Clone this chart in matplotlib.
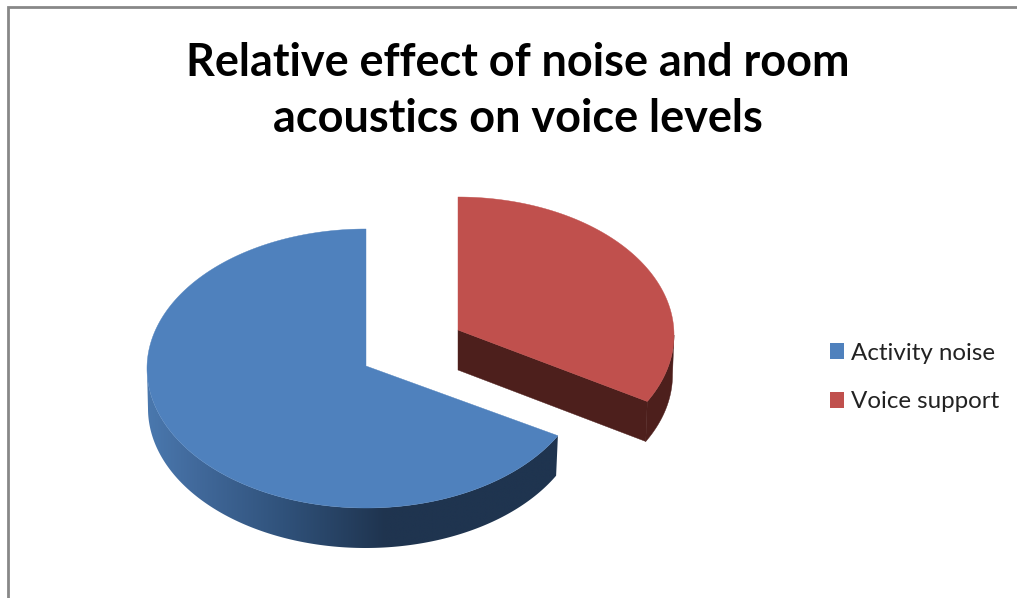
import numpy as np
import matplotlib
matplotlib.use("Agg")
import matplotlib.pyplot as plt
from matplotlib.colors import LinearSegmentedColormap
from matplotlib.patches import Polygon, Patch

labels = ["Activity noise", "Voice support"]
values = [67, 33]
colors = ["#4F81BD", "#C0504D"]
title = "Relative effect of noise and room\nacoustics on voice levels"

W, H = 1017, 598
fig = plt.figure(figsize=(W / 100, H / 100), dpi=100, facecolor="white")
ax = fig.add_axes([0, 0, 1, 1])
ax.set_xlim(0, W)
ax.set_ylim(H, 0)
ax.axis("off")

# frame (only the top and left edges are visible in the crop)
ax.plot([8, 8, W], [H, 7, 7], color="#888888", lw=2.0, solid_joinstyle="miter")

share = np.array(values, float) / sum(values) * 360
voice_end = np.deg2rad(share[1])
DEPTH = 40


def rim(cx, cy, rx, ry, a0, a1, n=360):
    t = np.linspace(a0, a1, n)
    return cx + rx * np.sin(t), cy - ry * np.cos(t)


# Activity noise slice
bx, by, brx, bry = 366, 368.5, 219, 139.5
apex_b = (366, 366)
cmap = LinearSegmentedColormap.from_list(
    "wall",
    [(0.0, "#4A78AE"), (0.12, "#41699B"), (0.33, "#30527B"),
     (0.58, "#1F344F"), (1.0, "#1F344F")],
)
# visible outer wall runs from the cut edge round to the leftmost point
x_u, y_u = rim(bx, by, brx, bry, voice_end, 1.5 * np.pi)
x_l, y_l = rim(bx - 0.5, by, brx - 1.5, bry, voice_end, 1.5 * np.pi)
wall_pts = np.r_[np.c_[x_u, y_u], np.c_[x_l[::-1], y_l[::-1] + DEPTH]]
wall_poly = Polygon(wall_pts, closed=True, fc="none", ec="none", transform=ax.transData)
ax.add_patch(wall_poly)
x0, x1 = wall_pts[:, 0].min(), wall_pts[:, 0].max()
y0, y1 = wall_pts[:, 1].min(), wall_pts[:, 1].max()
grad = np.linspace(0, 1, 512)[None, :]
im = ax.imshow(grad, extent=(x0, x1, y1, y0), cmap=cmap, aspect="auto", zorder=2,
               interpolation="bilinear")
im.set_clip_path(wall_poly)
ax.set_xlim(0, W)
ax.set_ylim(H, 0)

x, y = rim(bx, by, brx, bry, voice_end, 2 * np.pi)
ax.add_patch(Polygon(np.r_[[apex_b], np.c_[x, y]], closed=True, fc=colors[0], ec=colors[0],
                     lw=0.3, zorder=3))

# Voice support slice (exploded)
rx0, ry0, rrx, rry = 458, 335, 216, 138
apex_r = (458, 330)
x2, y2 = rim(rx0, ry0, rrx, rry, 0, voice_end)
dark = "#4D1F1C"
t2 = np.linspace(0, voice_end, len(x2))
right = t2 >= np.pi / 2
outer = np.r_[np.c_[x2[right], y2[right]],
              np.c_[x2[right][::-1] - 1.5, y2[right][::-1] + DEPTH]]
ax.add_patch(Polygon(outer, closed=True, fc=dark, ec=dark, lw=0.3, zorder=2))
cut = [apex_r, (x2[-1], y2[-1]), (x2[-1] - 1.5, y2[-1] + DEPTH), (apex_r[0], apex_r[1] + DEPTH)]
ax.add_patch(Polygon(cut, closed=True, fc=dark, ec=dark, lw=0.3, zorder=2))
ax.add_patch(Polygon(np.r_[[apex_r], np.c_[x2, y2]], closed=True, fc=colors[1], ec=colors[1],
                     lw=0.3, zorder=3))

ax.text(518, 91, title, ha="center", va="center", fontsize=32.4, fontweight="bold",
        family="Lato", color="black", linespacing=1.4)

handles = [Patch(facecolor=c, edgecolor="none", label=l) for c, l in zip(colors, labels)]
leg = ax.legend(handles=handles, loc="center left", bbox_to_anchor=(830 / W, 1 - 377.5 / H),
                frameon=False, prop={"family": "Lato", "size": 17.4},
                handlelength=0.58, handleheight=0.6, handletextpad=0.29,
                labelspacing=1.15, borderpad=0, borderaxespad=0)
for t in leg.get_texts():
    t.set_color("#222222")

fig.savefig("out.png", dpi=100)
